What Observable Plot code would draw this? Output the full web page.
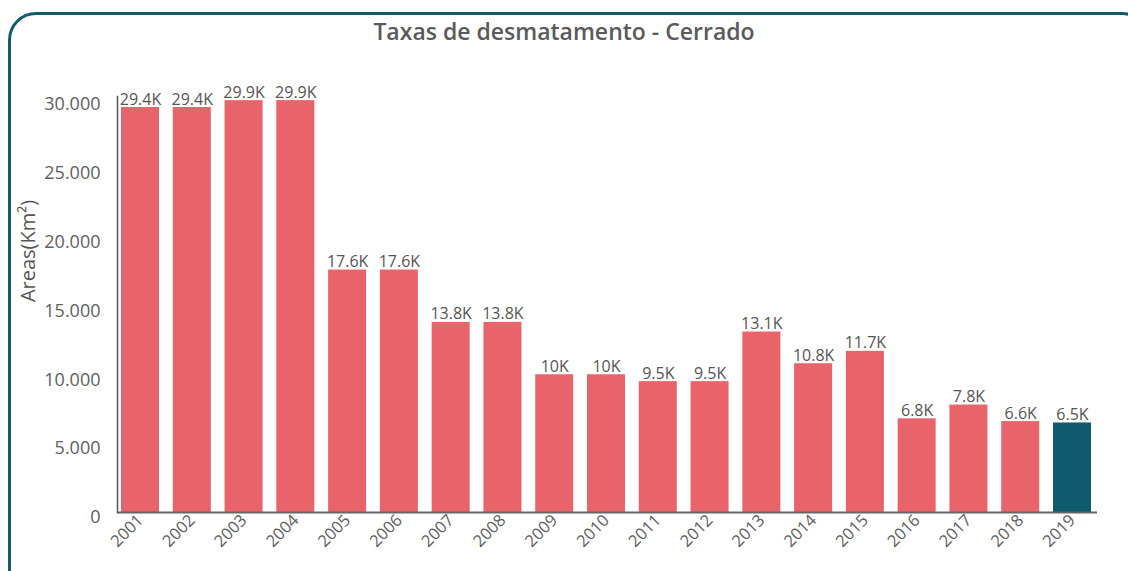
<!DOCTYPE html>
<html>
<head>
<meta charset="utf-8">
<script src="https://cdn.jsdelivr.net/npm/d3@7"></script>
<script src="https://cdn.jsdelivr.net/npm/@observablehq/plot@0.6"></script>
<style>
  html, body { margin: 0; padding: 0; background: #fff; }
  #wrap { position: relative; width: 1128px; height: 571px; overflow: hidden; font-family: "Open Sans", sans-serif; }
  #border { position: absolute; left: 8px; top: 12px; width: 1142px; height: 640px; box-sizing: border-box;
            border: 3px solid #135c6f; border-radius: 28px; }
  #title { position: absolute; left: 0; top: 17px; width: 1128px; text-align: center; font-size: 23px;
           font-weight: 600; line-height: 28px; color: #5a5a5a; }
  #ylabel { position: absolute; left: 27px; top: 251px; transform: translate(-50%, -50%) rotate(-90deg);
            white-space: nowrap; font-size: 20px; color: #555; }
  #chart { position: absolute; left: 0; top: 50px; }
</style>
</head>
<body>
<div id="wrap">
  <div id="border"></div>
  <div id="title">Taxas de desmatamento - Cerrado</div>
  <div id="ylabel">Areas(Km²)</div>
  <div id="chart"></div>
</div>
<script>
const years = ["2001","2002","2003","2004","2005","2006","2007","2008","2009","2010",
               "2011","2012","2013","2014","2015","2016","2017","2018","2019"];
const areas = [29400, 29400, 29900, 29900, 17600, 17600, 13800, 13800, 10000, 10000,
               9500, 9500, 13100, 10800, 11700, 6800, 7800, 6600, 6500];
const highlightYear = "2019";
const yTicks = [0, 5000, 10000, 15000, 20000, 25000, 30000];

const data = years.map((year, i) => ({year, area: areas[i], group: year === highlightYear ? "current" : "past"}));

const ptLocale = d3.formatLocale({decimal: ",", thousands: ".", grouping: [3], currency: ["R$", ""]});
const fmtThousands = ptLocale.format(",");
const fmtK = v => `${+(v / 1000).toFixed(1)}K`;

const chart = Plot.plot({
  width: 1128,
  height: 521,
  marginLeft: 117,
  marginRight: 31,
  marginTop: 46,
  marginBottom: 59,
  style: {fontFamily: "'Open Sans', sans-serif", background: "transparent", overflow: "visible"},
  x: {domain: years, paddingInner: 0.266, paddingOuter: 0.0966, align: 0.4, round: false},
  y: {domain: [0, 30200]},
  color: {domain: ["past", "current"], range: ["#e8646a", "#0e5a6e"]},
  marks: [
    Plot.barY(data, {x: "year", y: "area", fill: "group"}),
    Plot.text(data, {x: "year", y: "area", text: d => fmtK(d.area), dy: -3, lineAnchor: "bottom",
                     fontSize: 16, fill: "#555"}),
    Plot.axisY({ticks: yTicks, tickSize: 0, tickPadding: 17, tickFormat: fmtThousands, fontSize: 18,
                color: "#606060", label: null, dy: 5}),
    Plot.axisX({tickSize: 0, tickPadding: 5, tickRotate: -45, fontSize: 16.5, color: "#606060", label: null}),
    Plot.ruleY([0], {stroke: "#666", strokeWidth: 2}),
    Plot.frame({anchor: "left", stroke: "#555", strokeWidth: 1.5})
  ]
});
document.getElementById("chart").appendChild(chart);
</script>
</body>
</html>
